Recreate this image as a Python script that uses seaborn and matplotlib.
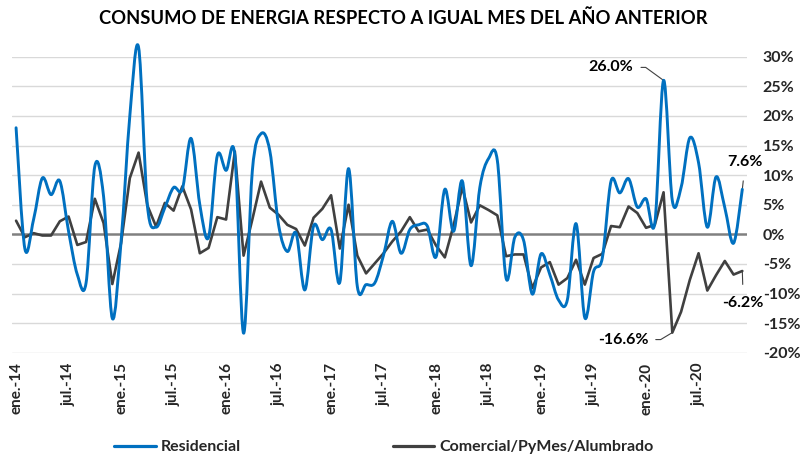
import numpy as np
import pandas as pd
import matplotlib
matplotlib.use("Agg")
import matplotlib.pyplot as plt
from matplotlib.path import Path
from matplotlib.patches import PathPatch
from matplotlib.lines import Line2D
from matplotlib.ticker import FuncFormatter
import seaborn as sns

# Períodos mensuales ene-2014 a dic-2020
meses = ["ene.", "feb.", "mar.", "abr.", "may.", "jun.",
         "jul.", "ago.", "sep.", "oct.", "nov.", "dic."]
anios = ["14", "15", "16", "17", "18", "19", "20"]
periodos = [f"{m}-{a}" for a in anios for m in meses]

# Variación interanual del consumo (%)
residencial = [
    18.0, -2.4, 2.5, 9.5, 6.7, 9.0, 0.5, -6.8, -8.2, 11.5, 6.4, -14.2,
    -1.2, 20.0, 31.6, 5.0, 1.2, 4.5, 7.9, 7.6, 16.2, 5.0, -0.5, 13.3,
    10.8, 13.3, -16.7, 10.7, 17.0, 14.1, 1.6, -2.9, 0.2, -9.4, 1.4, -0.9,
    0.8, -8.1, 11.1, -8.8, -8.5, -8.2, -3.5, 2.2, -3.2, 0.8, 1.6, 1.4,
    -3.8, 7.6, 0.5, 9.0, -5.3, 7.9, 12.8, 12.5, -7.4, -0.5, -1.0, -10.1,
    -3.3, -6.8, -11.1, -11.1, 1.8, -14.1, -6.3, -4.0, 9.0, 7.0, 9.4, 4.6,
    6.0, 1.9, 26.0, 5.7, 7.9, 16.3, 12.1, 1.2, 9.7, 4.5, -1.5, 7.6,
]
comercial = [
    2.3, -0.5, 0.2, -0.2, -0.2, 2.2, 3.0, -1.8, -1.3, 6.0, 1.9, -8.4,
    -1.5, 9.5, 13.8, 4.9, 1.3, 5.3, 4.0, 8.1, 4.2, -3.2, -2.3, 2.9,
    2.5, 14.0, -3.6, 2.5, 8.9, 4.5, 3.3, 1.6, 0.9, -1.9, 2.8, 4.3,
    6.6, -2.4, 5.0, -3.6, -6.6, -4.9, -3.2, -1.2, 0.5, 2.9, 0.5, 0.8,
    -1.9, -3.9, 1.5, 8.0, 2.0, 4.9, 4.1, 3.2, -3.7, -3.4, -3.4, -9.1,
    -5.6, -4.7, -8.5, -7.4, -4.3, -8.5, -4.0, -3.3, 1.4, 1.2, 4.7, 3.6,
    1.1, 1.6, 7.1, -16.6, -13.1, -7.7, -3.2, -9.5, -6.9, -4.5, -6.8, -6.2,
]

serie_res = "Residencial"
serie_com = "Comercial/PyMes/Alumbrado"
titulo = "CONSUMO DE ENERGIA RESPECTO A IGUAL MES DEL AÑO ANTERIOR"

# Meses con el valor rotulado
mes_pico_res = "mar.-20"
mes_piso_com = "abr.-20"

df = pd.DataFrame({
    "periodo": periodos,
    "pos": np.arange(len(periodos)),
    serie_res: residencial,
    serie_com: comercial,
})

AZUL = "#0070C0"
GRIS = "#404040"

sns.set_theme(style="white")
plt.rcParams["font.family"] = ["Lato", "DejaVu Sans"]
plt.rcParams["font.weight"] = "bold"


def curva_suave(x, y):
    """Curva Bézier suavizada que pasa por todos los puntos."""
    x = np.asarray(x, float)
    y = np.asarray(y, float)
    n = len(x)
    verts = [(x[0], y[0])]
    codes = [Path.MOVETO]
    for i in range(n - 1):
        i0 = max(i - 1, 0)
        i3 = min(i + 2, n - 1)
        c1 = (x[i] + (x[i + 1] - x[i0]) / 6, y[i] + (y[i + 1] - y[i0]) / 6)
        c2 = (x[i + 1] - (x[i3] - x[i]) / 6, y[i + 1] - (y[i3] - y[i]) / 6)
        verts += [c1, c2, (x[i + 1], y[i + 1])]
        codes += [Path.CURVE4] * 3
    return Path(verts, codes)


fig = plt.figure(figsize=(8.03, 4.57), dpi=100)
ax = fig.add_axes([0.01457, 0.2282, 0.9153, 0.6477])

# Rejilla horizontal y línea del cero
for v in range(-20, 31, 5):
    if v == 0:
        continue
    ax.axhline(v, color="#d9d9d9", lw=1.0, zorder=0)
ax.axhline(0, color="#808080", lw=1.8, zorder=1)

# Serie comercial (línea recta entre puntos)
sns.lineplot(data=df, x="pos", y=serie_com, ax=ax, color=GRIS, lw=1.9,
             legend=False, zorder=3)

# Serie residencial (línea suavizada)
ax.add_patch(PathPatch(curva_suave(df["pos"], df[serie_res]),
                       facecolor="none", edgecolor=AZUL, lw=2.1,
                       clip_on=False, zorder=4, capstyle="round",
                       joinstyle="round"))

ax.set_xlim(-0.5, len(periodos) - 0.5)
ax.set_ylim(-20, 30)
for s in ax.spines.values():
    s.set_visible(False)
ax.set_xlabel("")
ax.set_ylabel("")

# Eje Y a la derecha
ax.yaxis.tick_right()
ax.set_yticks(range(-20, 31, 5))
ax.yaxis.set_major_formatter(FuncFormatter(lambda v, _: f"{v:.0f}%"))
ax.tick_params(axis="y", length=0, pad=11.5, labelsize=11.5)
for t in ax.get_yticklabels():
    t.set_fontweight("bold")

# Eje X: una etiqueta cada seis meses
pos_ticks = list(df["pos"][::6])
ax.set_xticks(pos_ticks)
ax.set_xticklabels(list(df["periodo"][::6]), rotation=90, fontweight="bold")
ax.tick_params(axis="x", length=0, pad=7, labelsize=11)

# Etiquetas de valores destacados
anot = dict(fontsize=11.5, fontweight="bold", color="black",
            textcoords="offset pixels", annotation_clip=False)
i_max = periodos.index(mes_pico_res)
ax.annotate(f"{residencial[i_max]:.1f}%", xy=(i_max, residencial[i_max]),
            xytext=(-30, 13), ha="right", va="center",
            arrowprops=dict(arrowstyle="-", color=GRIS, lw=0.8,
                            shrinkA=3, shrinkB=0,
                            connectionstyle="angle,angleA=0,angleB=-36,rad=0"),
            **anot)
i_min = periodos.index(mes_piso_com)
ax.annotate(f"{comercial[i_min]:.1f}%", xy=(i_min, comercial[i_min]),
            xytext=(-24, -7), ha="right", va="center",
            arrowprops=dict(arrowstyle="-", color=GRIS, lw=0.8,
                            shrinkA=3, shrinkB=0,
                            connectionstyle="angle,angleA=0,angleB=31,rad=0"),
            **anot)
i_fin = len(periodos) - 1
ax.annotate(f"{residencial[i_fin]:.1f}%", xy=(i_fin, residencial[i_fin]),
            xytext=(3, 27), ha="center", va="center",
            arrowprops=dict(arrowstyle="-", color=GRIS, lw=0.8,
                            shrinkA=6, shrinkB=0),
            **anot)
ax.annotate(f"{comercial[i_fin]:.1f}%", xy=(i_fin, comercial[i_fin]),
            xytext=(1, -32), ha="center", va="center",
            arrowprops=dict(arrowstyle="-", color=GRIS, lw=0.8,
                            shrinkA=6, shrinkB=0),
            **anot)

# Título
fig.text(0.502, 1 - 18 / 457, titulo, ha="center", va="center",
         fontsize=13.2, fontweight="bold", color="black")

# Leyenda inferior
handles = [Line2D([], [], color=AZUL, lw=2.3),
           Line2D([], [], color=GRIS, lw=2.3)]
fig.legend(handles, [serie_res, serie_com], loc="center",
           bbox_to_anchor=(0.478, 10 / 457), ncol=2, frameon=False,
           handlelength=2.6, handletextpad=0.3, columnspacing=9.5,
           prop=dict(size=11.5, weight="bold"))

fig.savefig("out.png", dpi=100)
